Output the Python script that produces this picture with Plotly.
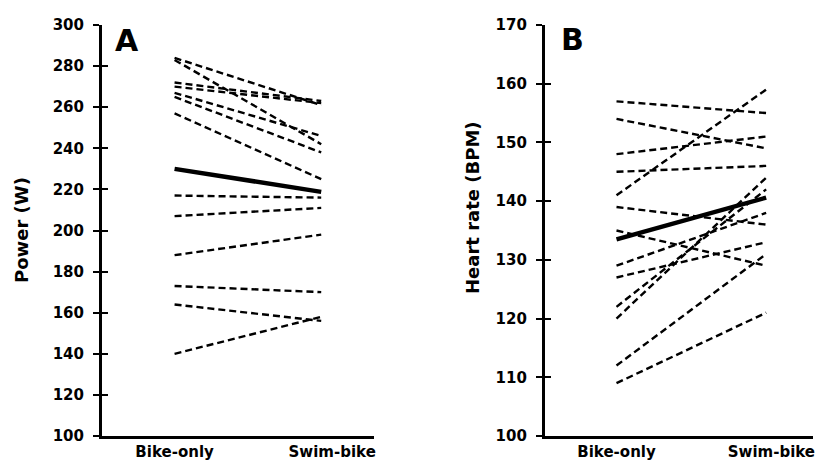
import plotly.graph_objects as go

conditions = ["Bike-only", "Swim-bike"]

# Panel A: power (W), each participant: bike-only -> swim-bike
power_bike_only = [284, 283, 272, 270, 267, 265, 257, 217, 207, 188, 173, 164, 140]
power_swim_bike = [261, 242, 263, 262, 246, 238, 225, 216, 211, 198, 170, 156, 158]
power_mean = [230, 218.8]

# Panel B: heart rate (BPM)
hr_bike_only = [157, 154, 148, 145, 141, 139, 135, 129, 127, 122, 120, 112, 109]
hr_swim_bike = [155, 149, 151, 146, 159, 136, 129, 138, 133, 142, 144, 131, 121]
hr_mean = [133.5, 140.6]

power_ticks = [100, 120, 140, 160, 180, 200, 220, 240, 260, 280, 300]
hr_ticks = [100, 110, 120, 130, 140, 150, 160, 170]

FONT = "DejaVu Sans"
W, H = 815, 461
TOP, BOT = 25, 438

fig = go.Figure()
xpos = [0, 1]

DASH = dict(color="black", width=2.4, dash="7px,4px")

for a, b in zip(power_bike_only, power_swim_bike):
    fig.add_trace(go.Scatter(x=xpos, y=[a, b], mode="lines", xaxis="x", yaxis="y",
                             line=DASH, showlegend=False, hoverinfo="skip"))
fig.add_trace(go.Scatter(x=xpos, y=power_mean, mode="lines", xaxis="x", yaxis="y",
                         line=dict(color="black", width=4.5), showlegend=False))

for a, b in zip(hr_bike_only, hr_swim_bike):
    fig.add_trace(go.Scatter(x=xpos, y=[a, b], mode="lines", xaxis="x2", yaxis="y2",
                             line=DASH, showlegend=False, hoverinfo="skip"))
fig.add_trace(go.Scatter(x=xpos, y=hr_mean, mode="lines", xaxis="x2", yaxis="y2",
                         line=dict(color="black", width=4.5), showlegend=False))

# dummy traces for inside-tick overlay axes
fig.add_trace(go.Scatter(x=[None], y=[None], xaxis="x", yaxis="y3", showlegend=False))
fig.add_trace(go.Scatter(x=[None], y=[None], xaxis="x2", yaxis="y4", showlegend=False))

tickfont = dict(family=FONT, size=15, color="black", weight="bold")

def xax(domain, rng, tv):
    return dict(domain=domain, range=rng, tickvals=tv, ticktext=conditions,
                showline=True, linecolor="black", linewidth=2.5, ticks="",
                showgrid=False, zeroline=False, tickfont=tickfont, fixedrange=True,
                ticklabeloverflow="allow")

def yax(anchor, rng, tv):
    return dict(anchor=anchor, range=rng, tickvals=tv, showline=True, linecolor="black",
                linewidth=2.5, ticks="outside", ticklen=6, tickwidth=1.5, tickcolor="black",
                showgrid=False, zeroline=False, tickfont=tickfont, ticklabelstandoff=6)

def yover(over, anchor, rng, tv):
    return dict(overlaying=over, anchor=anchor, side="left", range=rng, tickvals=tv,
                ticks="inside", ticklen=6, tickwidth=1.5, tickcolor="black",
                showticklabels=False, showline=False, showgrid=False, zeroline=False)

fig.update_layout(
    width=W, height=H,
    margin=dict(l=0, r=0, t=TOP, b=H - BOT),
    paper_bgcolor="white", plot_bgcolor="white",
    xaxis=xax([102 / W, 375 / W], [-0.4966, 1.3605], [0, 1.075]),
    yaxis=yax("x", [100, 300], power_ticks),
    xaxis2=xax([546 / W, 1.0], [-0.48, 1.313], [0, 1.035]),
    yaxis2=yax("x2", [100, 170], hr_ticks),
    yaxis3=yover("y", "x", [100, 300], power_ticks),
    yaxis4=yover("y2", "x2", [100, 170], hr_ticks),
)

ph = BOT - TOP
def py(pix):
    return (BOT - pix) / ph

annots = [
    dict(text="Power (W)", x=21 / W, y=py(231), textangle=-90, size=18),
    dict(text="Heart rate (BPM)", x=473 / W, y=py(208), textangle=-90, size=18),
    dict(text="A", x=127 / W, y=py(41), textangle=0, size=30),
    dict(text="B", x=574 / W, y=py(40), textangle=0, size=30),
]
for a in annots:
    fig.add_annotation(text=a["text"], x=a["x"], y=a["y"], xref="paper", yref="paper",
                       xanchor="center", yanchor="middle", showarrow=False,
                       textangle=a["textangle"],
                       font=dict(family=FONT, size=a["size"], color="black", weight="bold"))

fig.write_html("out.html")
